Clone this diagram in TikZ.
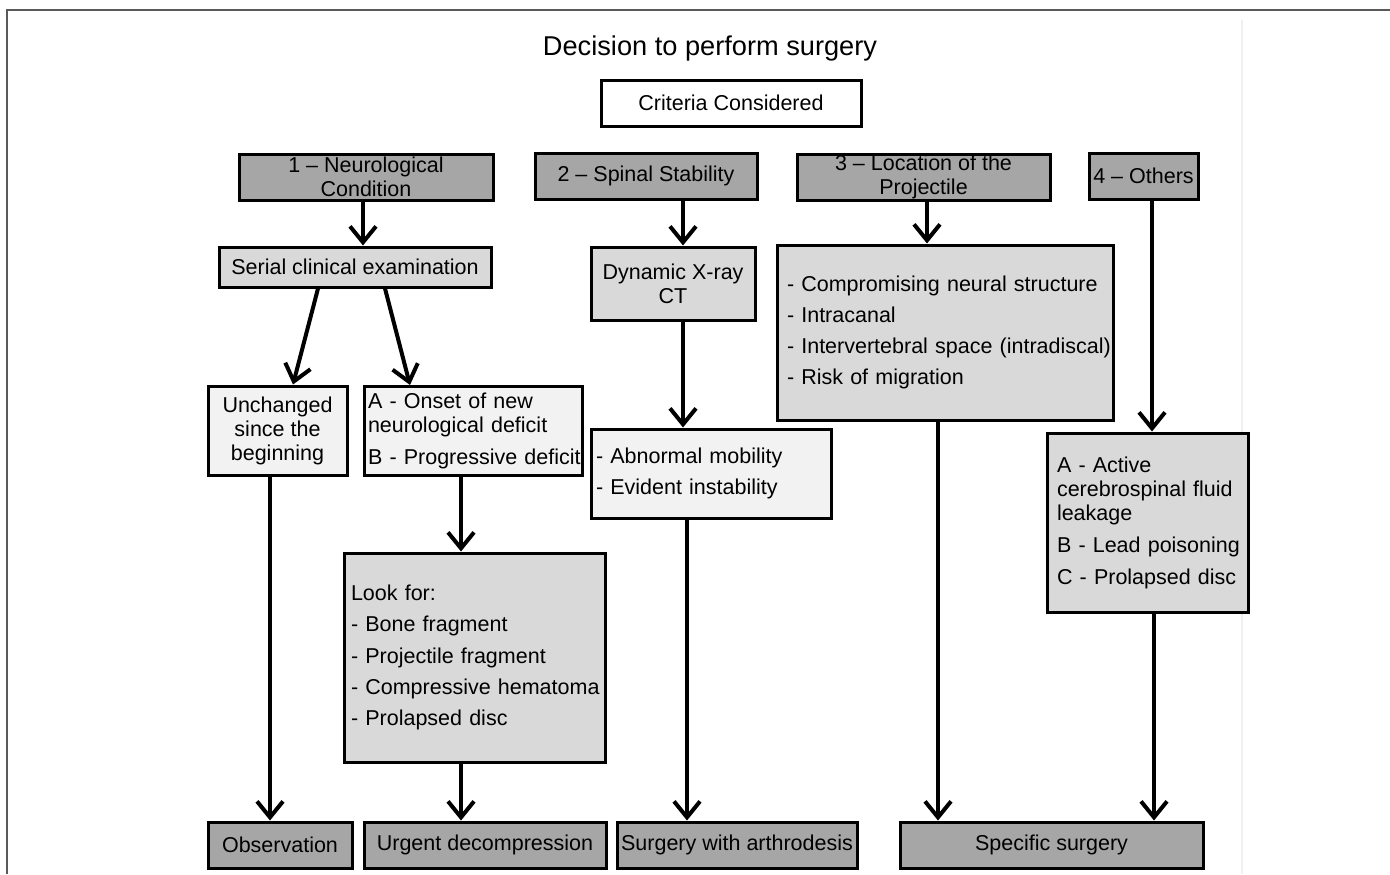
\documentclass[tikz,border=0pt]{standalone}
\usepackage{fontspec}
\setmainfont{Liberation Sans}
\usetikzlibrary{arrows.meta, shadows}

\begin{document}
\begin{tikzpicture}[x=0.5pt, y=-0.5pt,
    every node/.style={font=\fontsize{10.75}{12}\selectfont},
    box/.style={draw, line width=1.5pt, inner xsep=0pt, inner ysep=0pt},
    dshadow/.style={drop shadow={shadow xshift=1pt, shadow yshift=-1pt, fill=black!80, opacity=1}},
    head/.style={box, dshadow, fill=black!35, align=center, minimum height=23pt},
    mid/.style={box, fill=black!15},
    pale/.style={box, fill=black!5},
    arr/.style={line width=2pt, -{Straight Barb[length=8pt, width=13pt]}}]
    \useasboundingbox (0,0) rectangle (1390,874);
    \draw[black!65, line width=1pt] (7,874) -- (7,10) -- (1390,10);
    \draw[black!6, line width=1pt] (1242,20) -- (1242,874);

    \node (title) at (710,48) {\fontsize{13.6}{15}\selectfont Decision to perform surgery};
    \node[box, dshadow, fill=white, minimum width=130pt, minimum height=23pt] (crit) at (731,103) {Criteria Considered};

    \node[head, minimum width=127pt] (neuro) at (366,177) {1 -- Neurological\\Condition};
    \node[head, minimum width=111pt] (stab) at (646,176) {2 -- Spinal Stability};
    \node[head, minimum width=126.5pt] (loc) at (923.5,177) {3 -- Location of the\\Projectile};
    \node[head, minimum width=54.5pt] (others) at (1143.5,176) {4 -- Others};

    \node[mid, minimum width=136pt, minimum height=20pt] (serial) at (355,267) {Serial clinical examination};
    \node[mid, align=center, minimum width=82pt, minimum height=36.5pt] (xray) at (673,283.5) {Dynamic X-ray\\CT};
    \node[mid, align=left, text width=158pt, minimum width=168pt, minimum height=87.5pt] (site) at (945,332.5)
      {\mbox{- Compromising neural structure}\\[3.6pt] - Intracanal\\[3.6pt] \mbox{- Intervertebral space (intradiscal)}\\[3.6pt] - Risk of migration};

    \node[pale, align=center, minimum width=69.5pt, minimum height=44.5pt] (same) at (277.5,430.5) {Unchanged\\since the\\beginning};
    \node[pale, align=left, text width=105pt, minimum width=109pt, minimum height=44.5pt] (deficit) at (473,431)
      {A - Onset of new\\neurological deficit\\[4pt] \mbox{B - Progressive deficit}};
    \node[pale, align=left, text width=115pt, minimum width=120pt, minimum height=44.5pt] (mobile) at (711,473.5)
      {- Abnormal mobility\\[3.6pt] - Evident instability};
    \node[mid, align=left, text width=90.5pt, minimum width=100.5pt, minimum height=89.5pt] (misc) at (1147.5,522.5)
      {A - Active\\\mbox{cerebrospinal fluid}\\leakage\\[4pt] \mbox{B - Lead poisoning}\\[4pt] \mbox{C - Prolapsed disc}};
    \node[mid, align=left, text width=123.5pt, minimum width=130.5pt, minimum height=104.5pt] (lookfor) at (474.5,657.5)
      {Look for:\\[3.6pt] - Bone fragment\\[3.6pt] - Projectile fragment\\[3.6pt] \mbox{- Compressive hematoma}\\[3.6pt] - Prolapsed disc};

    \node[head, minimum width=72pt] (watch) at (280,845) {Observation};
    \node[head, minimum width=121pt] (decomp) at (485,845) {Urgent decompression};
    \node[head, minimum width=120pt] (fusion) at (737,845) {Surgery with arthrodesis};
    \node[head, minimum width=151.5pt] (specific) at (1051.5,845) {Specific surgery};

    \draw[arr] (neuro.south -| 363,0) -- (serial.north -| 363,0);
    \draw[arr] (stab.south -| 683,0) -- (xray.north -| 683,0);
    \draw[arr] (loc.south -| 927,0) -- (site.north -| 927,0);
    \draw[arr] (others.south -| 1152,0) -- (misc.north -| 1152,0);
    \draw[arr] (serial.south -| 318,0) -- (same.north -| 293,0);
    \draw[arr] (serial.south -| 385,0) -- (deficit.north -| 410,0);
    \draw[arr] (xray.south -| 683,0) -- (mobile.north -| 683,0);
    \draw[arr] (same.south -| 270,0) -- (watch.north -| 270,0);
    \draw[arr] (deficit.south -| 461,0) -- (lookfor.north -| 461,0);
    \draw[arr] (lookfor.south -| 461,0) -- (decomp.north -| 461,0);
    \draw[arr] (mobile.south -| 687,0) -- (fusion.north -| 687,0);
    \draw[arr] (site.south -| 938,0) -- (specific.north -| 938,0);
    \draw[arr] (misc.south -| 1154,0) -- (specific.north -| 1154,0);
\end{tikzpicture}
\end{document}
